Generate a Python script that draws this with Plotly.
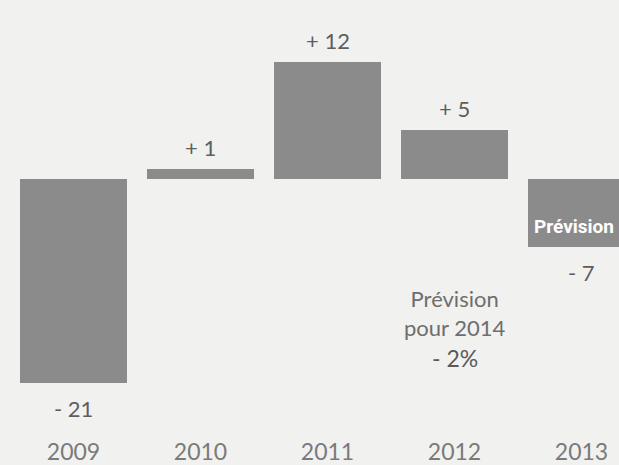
import plotly.graph_objects as go

years = ["2009", "2010", "2011", "2012", "2013"]
values = [-21, 1, 12, 5, -7]
forecast_label = "Prévision"
note_lines = ["Prévision", "pour 2014", "-2%"]

x = list(range(len(years)))
bar_w = 0.84
bar_color = "#8b8b8b"
FONT = "Lato, Roboto, sans-serif"

def fmt(v):
    return ("+ " if v > 0 else "- ") + str(abs(v))

fig = go.Figure()
fig.add_trace(go.Bar(x=x, y=values, width=bar_w, marker=dict(color=bar_color, line=dict(width=0)),
                     hoverinfo="skip"))

ann = []
for xi, v in zip(x, values):
    ann.append(dict(x=xi, y=v, xref="x", yref="y", text=fmt(v), showarrow=False,
                    yanchor="bottom" if v > 0 else "top", yshift=6 if v > 0 else -10,
                    font=dict(family=FONT, size=22, color="#5e5e5e")))
# forecast label inside the last bar
ann.append(dict(x=x[-1] - bar_w / 2, y=values[-1] * 0.7, xref="x", yref="y", text="<b>" + forecast_label + "</b>",
                showarrow=False, xanchor="left", xshift=5, borderpad=0,
                font=dict(family="Roboto, sans-serif", size=19, color="white")))
# note in 2012 column
ann.append(dict(x=x[3], y=-13.8, xref="x", yref="y", text=note_lines[0] + "<br>" + note_lines[1],
                showarrow=False, yanchor="middle", borderpad=0,
                font=dict(family=FONT, size=22, color="#6e6e6e")))
ann.append(dict(x=x[3], y=-18.4, xref="x", yref="y", text=note_lines[2].replace("-", "- "),
                showarrow=False, yanchor="middle", borderpad=0,
                font=dict(family=FONT, size=23, color="#5a5a5a")))

fig.update_layout(
    width=619, height=465,
    margin=dict(l=0, r=0, t=0, b=35),
    paper_bgcolor="#f1f1ef", plot_bgcolor="#f1f1ef",
    showlegend=False,
    annotations=ann,
    bargap=0,
    xaxis=dict(range=[-0.579, 4.295], tickvals=x, ticktext=years, showgrid=False, zeroline=False,
               showline=False, ticks="outside", ticklen=5, tickcolor="rgba(0,0,0,0)",
               tickfont=dict(family=FONT, size=23, color="#7a7a7a")),
    yaxis=dict(range=[-25.38, 18.36], visible=False, showgrid=False, zeroline=False),
)
fig.write_html("out.html", config={"displayModeBar": False},
               post_script="document.body.style.margin='0';")
